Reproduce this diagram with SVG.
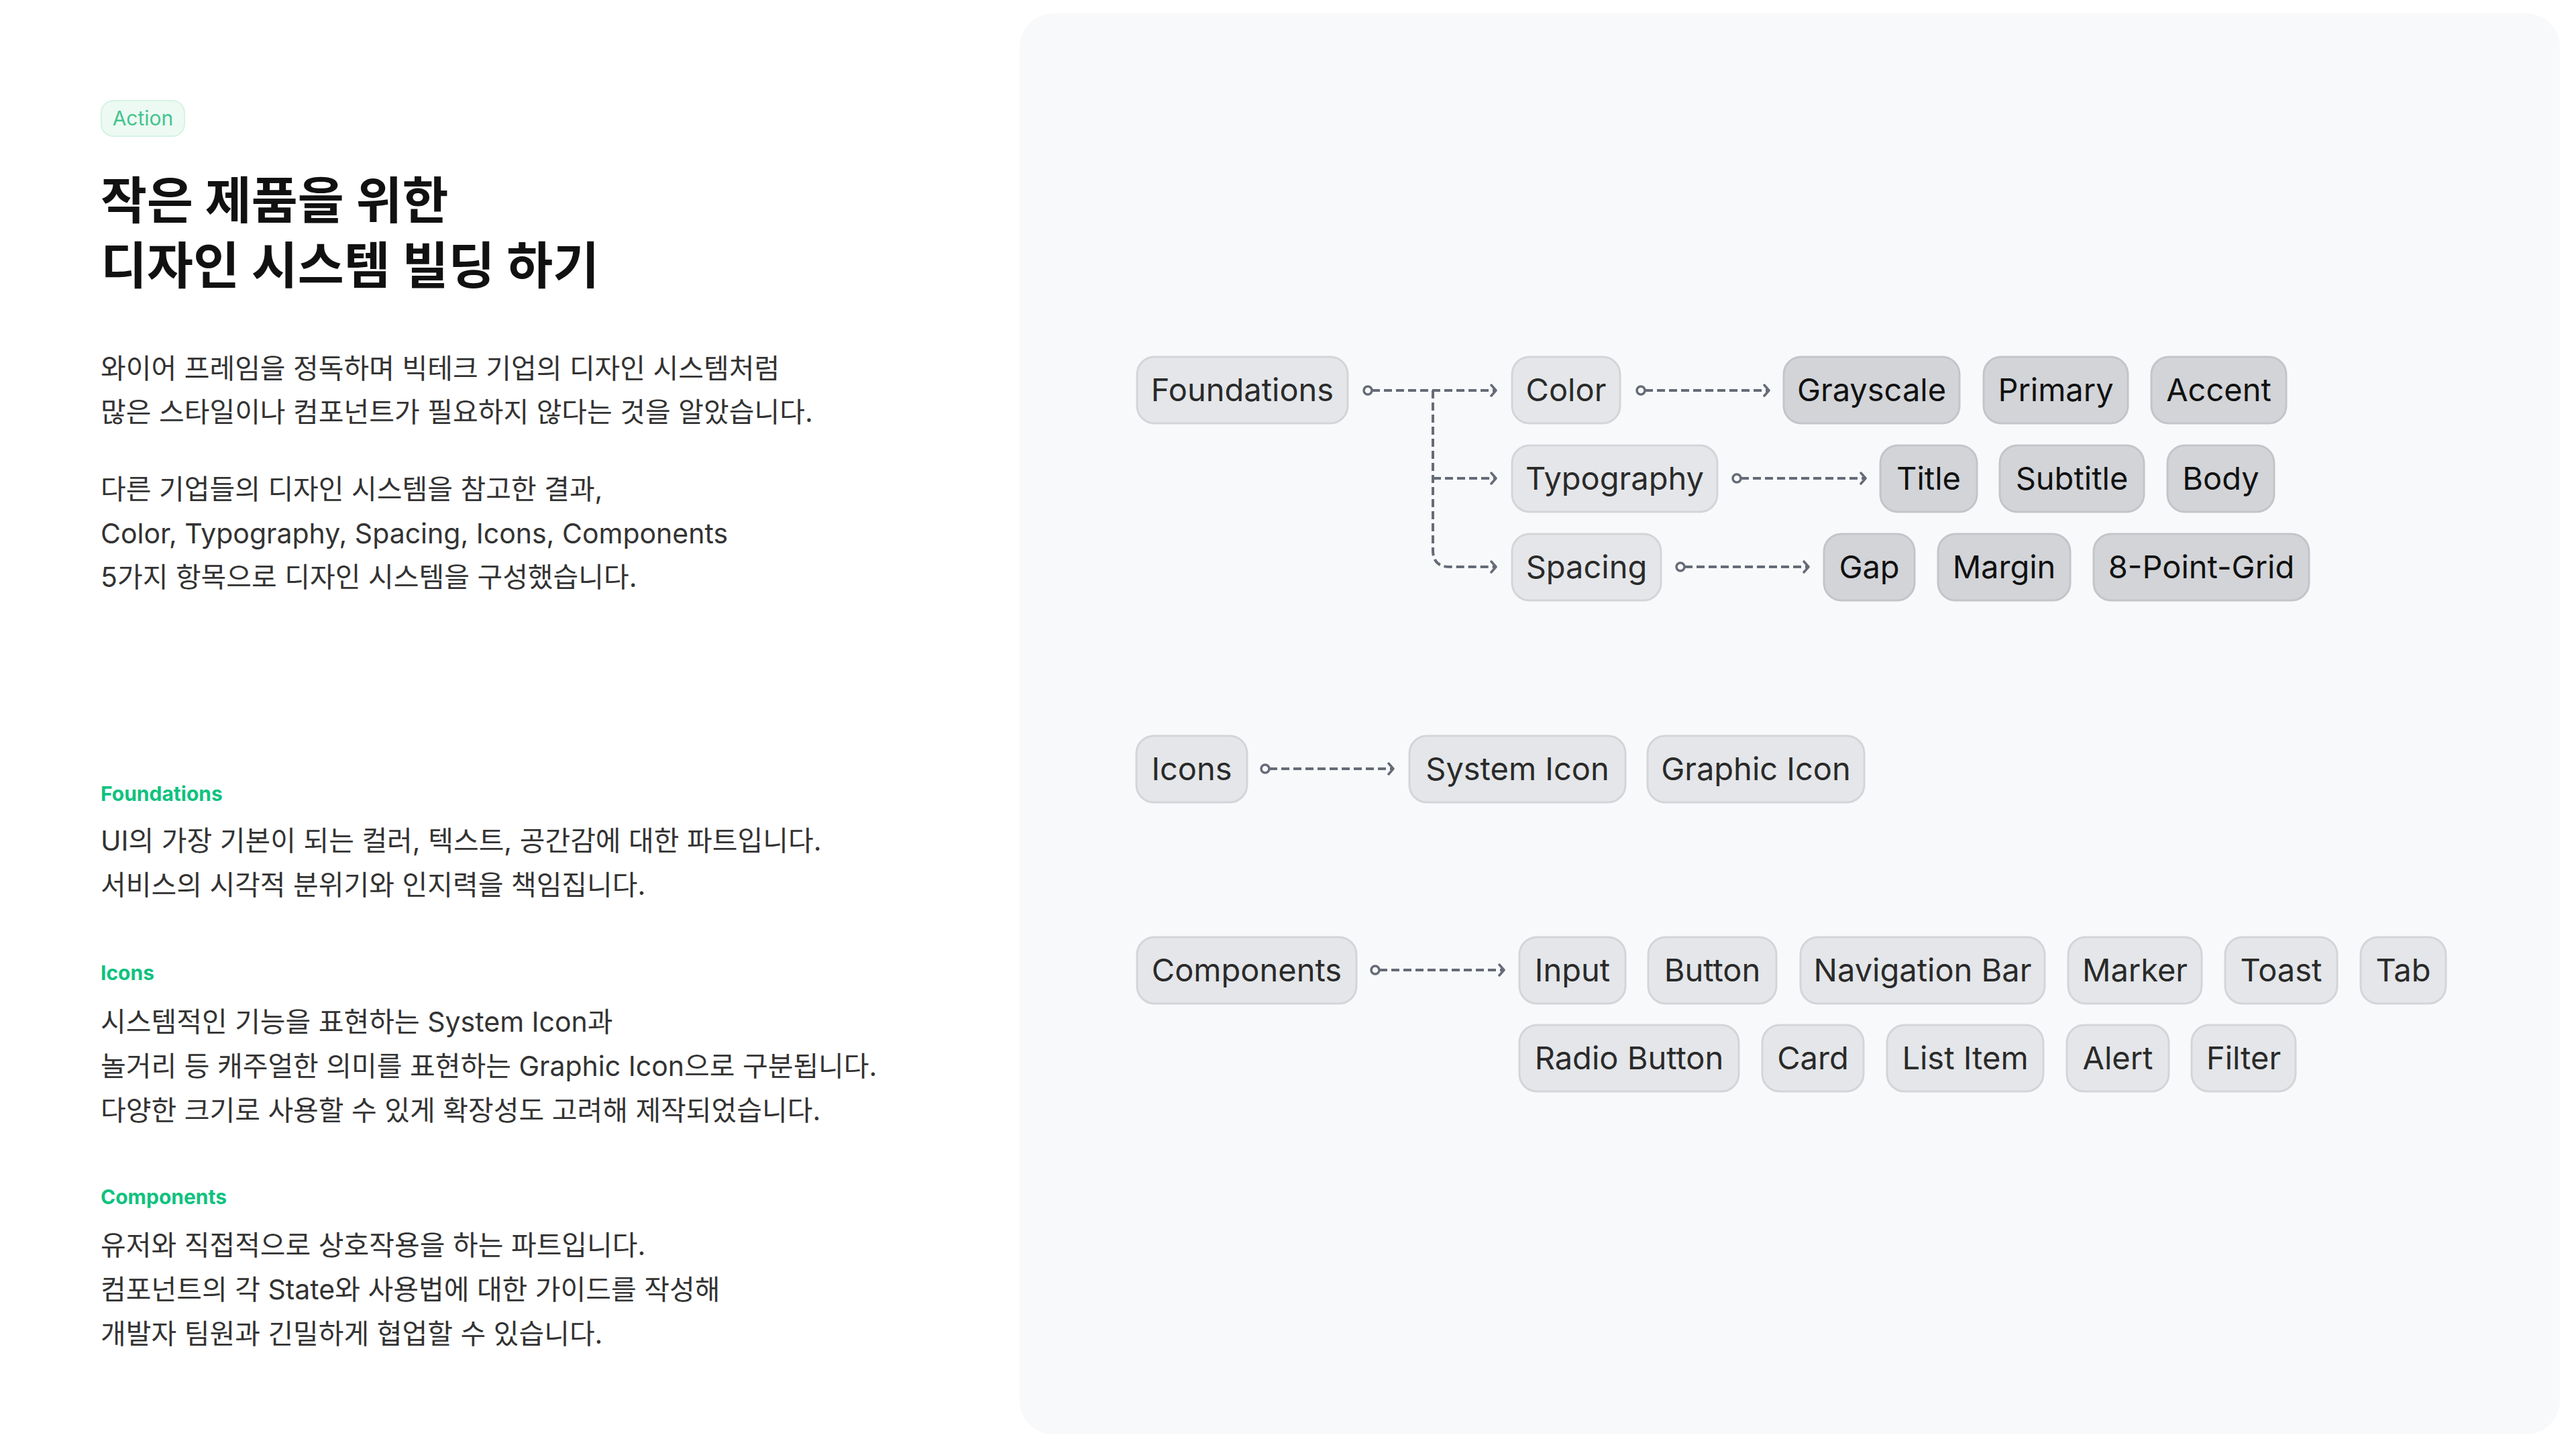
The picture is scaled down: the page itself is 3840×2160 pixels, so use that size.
<svg xmlns="http://www.w3.org/2000/svg" width="3840" height="2160" viewBox="0 0 3840 2160">
<defs>
<style>
.bg{fill:#ffffff}
.panel{fill:#f8f9fa}
.title{font-family:"Inter","Noto Sans CJK KR",sans-serif;font-size:75px;font-weight:700;fill:#111111}
.body{font-family:"Inter","Noto Sans CJK KR",sans-serif;font-size:41px;fill:#333333}
.label{font-family:"Inter","Noto Sans CJK KR",sans-serif;font-size:30px;font-weight:700;fill:#0fc27f}
.badge{fill:#ecfaf3;stroke:#d6f3e5;stroke-width:2}
.badgeT{font-family:"Inter",sans-serif;font-size:30px;fill:#45c48f}
.n1 rect{fill:#e4e6e9;stroke:#d3d5d9;stroke-width:3}
.n1 text{font-family:"Inter","Noto Sans CJK KR",sans-serif;font-size:47px;fill:#2a2a2a;text-anchor:middle}
.n2 rect{fill:#d2d4d8;stroke:#c3c5ca;stroke-width:3}
.n2 text{font-family:"Inter","Noto Sans CJK KR",sans-serif;font-size:47px;fill:#111111;text-anchor:middle}
.edge{fill:none;stroke:#656b77;stroke-width:4;stroke-dasharray:12 6}
.dot{fill:#f8f9fa;stroke:#656b77;stroke-width:3.5}
</style>
<marker id="arr" markerWidth="14" markerHeight="20" refX="11" refY="10" orient="auto" markerUnits="userSpaceOnUse">
<path d="M4,2 L11,10 L4,18" fill="none" stroke="#656b77" stroke-width="3.5" stroke-linecap="round" stroke-linejoin="round"/>
</marker>
</defs>
<rect class="bg" x="0" y="0" width="3840" height="2160"/>
<rect class="panel" x="1520" y="20" width="2296" height="2118" rx="50" ry="50"/>

<g id="left-text">
<rect class="badge" x="151" y="150" width="124" height="53" rx="18"/>
<text class="badgeT" x="213" y="187" text-anchor="middle">Action</text>
<text class="title" x="150" y="326">작은 제품을 위한</text>
<text class="title" x="150" y="423">디자인 시스템 빌딩 하기</text>
<text class="body" x="150" y="564">와이어 프레임을 정독하며 빅테크 기업의 디자인 시스템처럼</text>
<text class="body" x="150" y="629">많은 스타일이나 컴포넌트가 필요하지 않다는 것을 알았습니다.</text>
<text class="body" x="150" y="744">다른 기업들의 디자인 시스템을 참고한 결과,</text>
<text class="body" x="150" y="810">Color, Typography, Spacing, Icons, Components</text>
<text class="body" x="150" y="875">5가지 항목으로 디자인 시스템을 구성했습니다.</text>
<text class="label" x="150" y="1194">Foundations</text>
<text class="body" x="150" y="1268">UI의 가장 기본이 되는 컬러, 텍스트, 공간감에 대한 파트입니다.</text>
<text class="body" x="150" y="1334">서비스의 시각적 분위기와 인지력을 책임집니다.</text>
<text class="label" x="150" y="1461">Icons</text>
<text class="body" x="150" y="1538">시스템적인 기능을 표현하는 System Icon과</text>
<text class="body" x="150" y="1604">놀거리 등 캐주얼한 의미를 표현하는 Graphic Icon으로 구분됩니다.</text>
<text class="body" x="150" y="1670">다양한 크기로 사용할 수 있게 확장성도 고려해 제작되었습니다.</text>
<text class="label" x="150" y="1795">Components</text>
<text class="body" x="150" y="1871">유저와 직접적으로 상호작용을 하는 파트입니다.</text>
<text class="body" x="150" y="1937">컴포넌트의 각 State와 사용법에 대한 가이드를 작성해</text>
<text class="body" x="150" y="2003">개발자 팀원과 긴밀하게 협업할 수 있습니다.</text>
</g>

<g id="connectors">
<path class="edge" d="M2045,582 H2230" marker-end="url(#arr)"/>
<path class="edge" d="M2136,582 V820 Q2136,845 2161,845 H2230" marker-end="url(#arr)"/>
<path class="edge" d="M2136,713 H2230" marker-end="url(#arr)"/>
<circle class="dot" cx="2039" cy="582" r="6"/>
<path class="edge" d="M2452,582 H2637" marker-end="url(#arr)"/>
<circle class="dot" cx="2446" cy="582" r="6"/>
<path class="edge" d="M2595,713 H2781" marker-end="url(#arr)"/>
<circle class="dot" cx="2589" cy="713" r="6"/>
<path class="edge" d="M2511,845 H2696" marker-end="url(#arr)"/>
<circle class="dot" cx="2505" cy="845" r="6"/>
<path class="edge" d="M1892,1146 H2077" marker-end="url(#arr)"/>
<circle class="dot" cx="1886" cy="1146" r="6"/>
<path class="edge" d="M2056,1446 H2242" marker-end="url(#arr)"/>
<circle class="dot" cx="2050" cy="1446" r="6"/>
</g>

<g id="node-foundations" class="n1"><rect x="1695" y="532" width="314" height="99" rx="26"/><text x="1852" y="598">Foundations</text></g>
<g id="node-color" class="n1"><rect x="2254" y="532" width="161" height="99" rx="26"/><text x="2334.5" y="598">Color</text></g>
<g id="node-typography" class="n1"><rect x="2254" y="664" width="306" height="99" rx="26"/><text x="2407" y="730">Typography</text></g>
<g id="node-spacing" class="n1"><rect x="2254" y="796" width="222" height="99" rx="26"/><text x="2365" y="862">Spacing</text></g>

<g id="node-grayscale" class="n2"><rect x="2659" y="532" width="262" height="99" rx="26"/><text x="2790" y="598">Grayscale</text></g>
<g id="node-primary" class="n2"><rect x="2957" y="532" width="215" height="99" rx="26"/><text x="3064.5" y="598">Primary</text></g>
<g id="node-accent" class="n2"><rect x="3207" y="532" width="201" height="99" rx="26"/><text x="3307.5" y="598">Accent</text></g>
<g id="node-title" class="n2"><rect x="2803" y="664" width="144" height="99" rx="26"/><text x="2875" y="730">Title</text></g>
<g id="node-subtitle" class="n2"><rect x="2981" y="664" width="215" height="99" rx="26"/><text x="3088.5" y="730">Subtitle</text></g>
<g id="node-body" class="n2"><rect x="3231" y="664" width="159" height="99" rx="26"/><text x="3310.5" y="730">Body</text></g>
<g id="node-gap" class="n2"><rect x="2719" y="796" width="135" height="99" rx="26"/><text x="2786.5" y="862">Gap</text></g>
<g id="node-margin" class="n2"><rect x="2889" y="796" width="197" height="99" rx="26"/><text x="2987.5" y="862">Margin</text></g>
<g id="node-8pointgrid" class="n2"><rect x="3121" y="796" width="321" height="99" rx="26"/><text x="3281.5" y="862">8-Point-Grid</text></g>

<g id="node-icons" class="n1"><rect x="1694" y="1097" width="165" height="99" rx="26"/><text x="1776.5" y="1163">Icons</text></g>
<g id="node-system-icon" class="n1"><rect x="2101" y="1097" width="322" height="99" rx="26"/><text x="2262" y="1163">System Icon</text></g>
<g id="node-graphic-icon" class="n1"><rect x="2456" y="1097" width="323" height="99" rx="26"/><text x="2617.5" y="1163">Graphic Icon</text></g>

<g id="node-components" class="n1"><rect x="1695" y="1397" width="327" height="99" rx="26"/><text x="1858.5" y="1463">Components</text></g>
<g id="node-input" class="n1"><rect x="2265" y="1397" width="158" height="99" rx="26"/><text x="2344" y="1463">Input</text></g>
<g id="node-button" class="n1"><rect x="2457" y="1397" width="191" height="99" rx="26"/><text x="2552.5" y="1463">Button</text></g>
<g id="node-navigation-bar" class="n1"><rect x="2684" y="1397" width="364" height="99" rx="26"/><text x="2866" y="1463">Navigation Bar</text></g>
<g id="node-marker" class="n1"><rect x="3083" y="1397" width="199" height="99" rx="26"/><text x="3182.5" y="1463">Marker</text></g>
<g id="node-toast" class="n1"><rect x="3317" y="1397" width="167" height="99" rx="26"/><text x="3400.5" y="1463">Toast</text></g>
<g id="node-tab" class="n1"><rect x="3519" y="1397" width="127" height="99" rx="26"/><text x="3582.5" y="1463">Tab</text></g>
<g id="node-radio-button" class="n1"><rect x="2265" y="1528" width="327" height="99" rx="26"/><text x="2428.5" y="1594">Radio Button</text></g>
<g id="node-card" class="n1"><rect x="2627" y="1528" width="151" height="99" rx="26"/><text x="2702.5" y="1594">Card</text></g>
<g id="node-list-item" class="n1"><rect x="2813" y="1528" width="233" height="99" rx="26"/><text x="2929.5" y="1594">List Item</text></g>
<g id="node-alert" class="n1"><rect x="3081" y="1528" width="152" height="99" rx="26"/><text x="3157" y="1594">Alert</text></g>
<g id="node-filter" class="n1"><rect x="3267" y="1528" width="155" height="99" rx="26"/><text x="3344.5" y="1594">Filter</text></g>
</svg>
